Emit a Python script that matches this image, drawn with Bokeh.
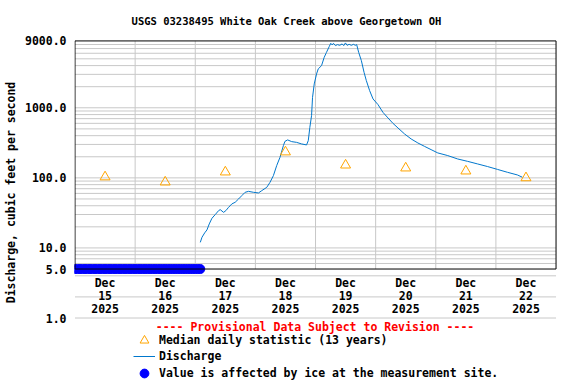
from datetime import datetime, timedelta

from bokeh.core.properties import value
from bokeh.embed import file_html
from bokeh.models import (FixedTicker, Label, Legend, LegendItem,
                          PrintfTickFormatter, Range1d)
from bokeh.plotting import figure
from bokeh.resources import INLINE

# ---------------- data ----------------
title_text = "USGS 03238495 White Oak Creek above Georgetown OH"
y_label_text = "Discharge, cubic feet per second"
provisional_text = "---- Provisional Data Subject to Revision ----"

start = datetime(2025, 12, 15)
n_days = 8
day_month = ["Dec", "Dec", "Dec", "Dec", "Dec", "Dec", "Dec", "Dec"]
day_num = ["15", "16", "17", "18", "19", "20", "21", "22"]
day_year = ["2025", "2025", "2025", "2025", "2025", "2025", "2025", "2025"]

# median daily statistic (13 years), one per day (plotted at noon)
median_cfs = [103, 87, 121, 234, 152, 138, 125, 100]

# discharge: hours after 2025-12-15 00:00, cfs
disch_hours = [50.01, 50.69, 51.76, 52.68, 53.59, 54.66, 55.97, 57.33, 57.96, 59.31,
               60.23, 61.30, 62.61, 63.93, 65.28, 66.59, 67.90, 69.25, 71.24, 73.23,
               74.54, 76.53, 77.84, 79.19, 80.50, 81.82, 83.17, 83.80, 84.88, 86.47,
               88.45, 90.44, 92.43, 93.11, 93.74, 94.42, 94.81, 95.49, 96.41, 97.08,
               98.40, 99.47, 100.38, 101.46, 102.09, 102.65, 103.16, 103.96, 104.75, 105.67,
               106.62, 107.26, 107.94, 108.61, 109.41, 110.32, 111.11, 111.91, 112.43, 113.22,
               114.30, 115.37, 116.28, 117.60, 118.95, 120.94, 122.92, 124.91, 126.90, 128.89,
               131.51, 134.17, 136.84, 139.46, 142.12, 144.79, 148.76, 152.74, 156.71, 160.69,
               164.67, 168.64, 172.62, 176.59, 178.58]
disch_cfs = [12.0, 14.2, 16.4, 18.1, 22.0, 26.5, 29.9, 34.1, 35.2, 32.2,
             34.1, 38.0, 42.5, 44.8, 50.0, 55.8, 62.2, 64.2, 62.2, 60.9,
             65.7, 73.2, 86.4, 107.6, 149.4, 196.3, 288.4, 332, 348, 329,
             321, 305, 295, 340, 526, 773, 1410, 2190, 3043, 3586,
             3997, 5252, 6186, 7462, 8318, 7893, 8318, 7713, 7971, 7788,
             8155, 7713, 8428, 7788, 8049, 7788, 8049, 7788, 7971, 6186,
             4710, 3206, 2442, 1757, 1338, 1110, 861, 717, 600, 516,
             424, 359, 315, 282, 253, 227, 208, 186, 172, 158,
             145, 132, 120, 110, 102]

# ice-affected period: hourly flags, drawn at 5.0 cfs
ice_hours = list(range(0, 51))
ice_cfs = [5.0] * len(ice_hours)

y_ticks = [1, 5, 10, 100, 1000, 9000]
grid_ticks = [m * 10 ** e for e in range(0, 4) for m in range(1, 10)
              if not (e == 0 and m in (3, 5)) and m * 10 ** e < 9000]

legend_labels = ["Median daily statistic (13 years)",
                 "Discharge",
                 "Value is affected by ice at the measurement site."]

# ---------------- layout / styling ----------------
FONT = "DejaVu Sans Mono"
FS = "11.5px"
GRID = "#c8c8c8"
LINE_BLUE = "#0077cc"
ICE_BLUE = "#0000ff"
ORANGE = "#ffa500"

W, H = 576, 384
LEFT = 72                 # left panel (y axis)
PX_PER_DAY = 60.37
X0_PX = 72.5              # pixel of the first midnight
PX_PER_DECADE = 70.07
Y_ONE_PX = 317.5          # pixel of 1.0 cfs

frame_bottom_cfs = 5
frame_top_cfs = 9000

t = lambda h: start + timedelta(hours=h)
disch_t = [t(h) for h in disch_hours]
ice_t = [t(h) for h in ice_hours]
noon_t = [start + timedelta(days=d, hours=12) for d in range(n_days)]
day_bounds = [start + timedelta(days=d) for d in range(1, n_days)]
end = start + timedelta(days=n_days)

x_lo = start - timedelta(days=(X0_PX - LEFT) / PX_PER_DAY)
x_hi = start + timedelta(days=(W - X0_PX) / PX_PER_DAY)
y_hi = 10 ** (Y_ONE_PX / PX_PER_DECADE)
y_lo = 10 ** (-(H - Y_ONE_PX) / PX_PER_DECADE)

p = figure(width=W, height=H, output_backend="svg", toolbar_location=None,
           x_axis_location=None, y_axis_type="log",
           x_range=Range1d(x_lo, x_hi), y_range=Range1d(y_lo, y_hi),
           min_border_left=LEFT, min_border_right=0,
           min_border_top=0, min_border_bottom=0)
p.outline_line_color = None
p.background_fill_color = "white"
p.border_fill_color = "white"
p.xgrid.visible = False
p.ygrid.visible = False

ax = p.yaxis[0]
ax.ticker = FixedTicker(ticks=y_ticks, minor_ticks=[])
ax.formatter = PrintfTickFormatter(format="%.1f")
ax.axis_line_color = None
ax.major_tick_line_color = None
ax.minor_tick_line_color = None
ax.major_tick_out = 0
ax.major_tick_in = 0
ax.minor_tick_out = 0
ax.minor_tick_in = 0
ax.major_label_standoff = 8
ax.major_label_text_font = FONT
ax.major_label_text_font_size = FS
ax.major_label_text_font_style = "bold"
ax.major_label_text_color = "black"
ax.axis_label = y_label_text
ax.axis_label_standoff = 4
ax.axis_label_text_font = FONT
ax.axis_label_text_font_size = FS
ax.axis_label_text_font_style = "bold"
ax.axis_label_text_color = "black"

# horizontal gridlines across the plot width
p.segment(x0=[start] * len(grid_ticks), y0=grid_ticks,
          x1=[end] * len(grid_ticks), y1=grid_ticks,
          line_color=GRID, line_width=1)
# vertical day gridlines inside the box
p.segment(x0=day_bounds, y0=[frame_bottom_cfs] * len(day_bounds),
          x1=day_bounds, y1=[frame_top_cfs] * len(day_bounds),
          line_color=GRID, line_width=1)

ice_r = p.scatter(ice_t, ice_cfs, marker="circle", size=9,
                  fill_color=ICE_BLUE, line_color=ICE_BLUE)
line_r = p.line(disch_t, disch_cfs, line_color=LINE_BLUE, line_width=1)
med_r = p.scatter(noon_t, median_cfs, marker="triangle", size=10,
                  fill_color=None, line_color=ORANGE, line_width=1)

# plot box
p.quad(left=[start], right=[end], bottom=[frame_bottom_cfs], top=[frame_top_cfs],
       fill_color=None, line_color="black", line_width=1)

# date labels under the box
for txt, off in ((day_month, 13.7), (day_num, 26), (day_year, 39.7)):
    p.text(x=noon_t, y=[frame_bottom_cfs] * n_days, text=txt, y_offset=off,
           text_align="center", text_baseline="middle",
           text_font=value(FONT), text_font_size=FS, text_font_style="bold",
           text_color="black")

# title and provisional note (screen units relative to the frame)
p.add_layout(Label(x=284 - LEFT, y=H - 20, x_units="screen", y_units="screen",
                   text=title_text, text_align="center", text_baseline="middle",
                   text_font=FONT, text_font_size="10.5px", text_font_style="bold",
                   text_color="black"))
p.add_layout(Label(x=312.5 - LEFT, y=H - 326, x_units="screen", y_units="screen",
                   text=provisional_text, text_align="center", text_baseline="middle",
                   text_font=FONT, text_font_size=FS, text_font_style="bold",
                   text_color="#ff0000"))

# one legend per row so the rows can sit 16 px apart
ROW_H = 22
row_centers = [340, 356, 373]
for label, rend, cy in zip(legend_labels, [med_r, line_r, ice_r], row_centers):
    lg = Legend(items=[LegendItem(label=label, renderers=[rend])],
                location=(131 - LEFT, H - (cy + ROW_H / 2)), orientation="vertical",
                glyph_width=22, glyph_height=ROW_H, label_height=14, label_width=20,
                spacing=0, padding=0, margin=0, label_standoff=4,
                border_line_color=None, background_fill_alpha=0,
                label_text_font=FONT, label_text_font_size=FS,
                label_text_font_style="bold", label_text_color="black")
    p.add_layout(lg, "center")

open("out.html", "w").write(file_html(p, INLINE))
